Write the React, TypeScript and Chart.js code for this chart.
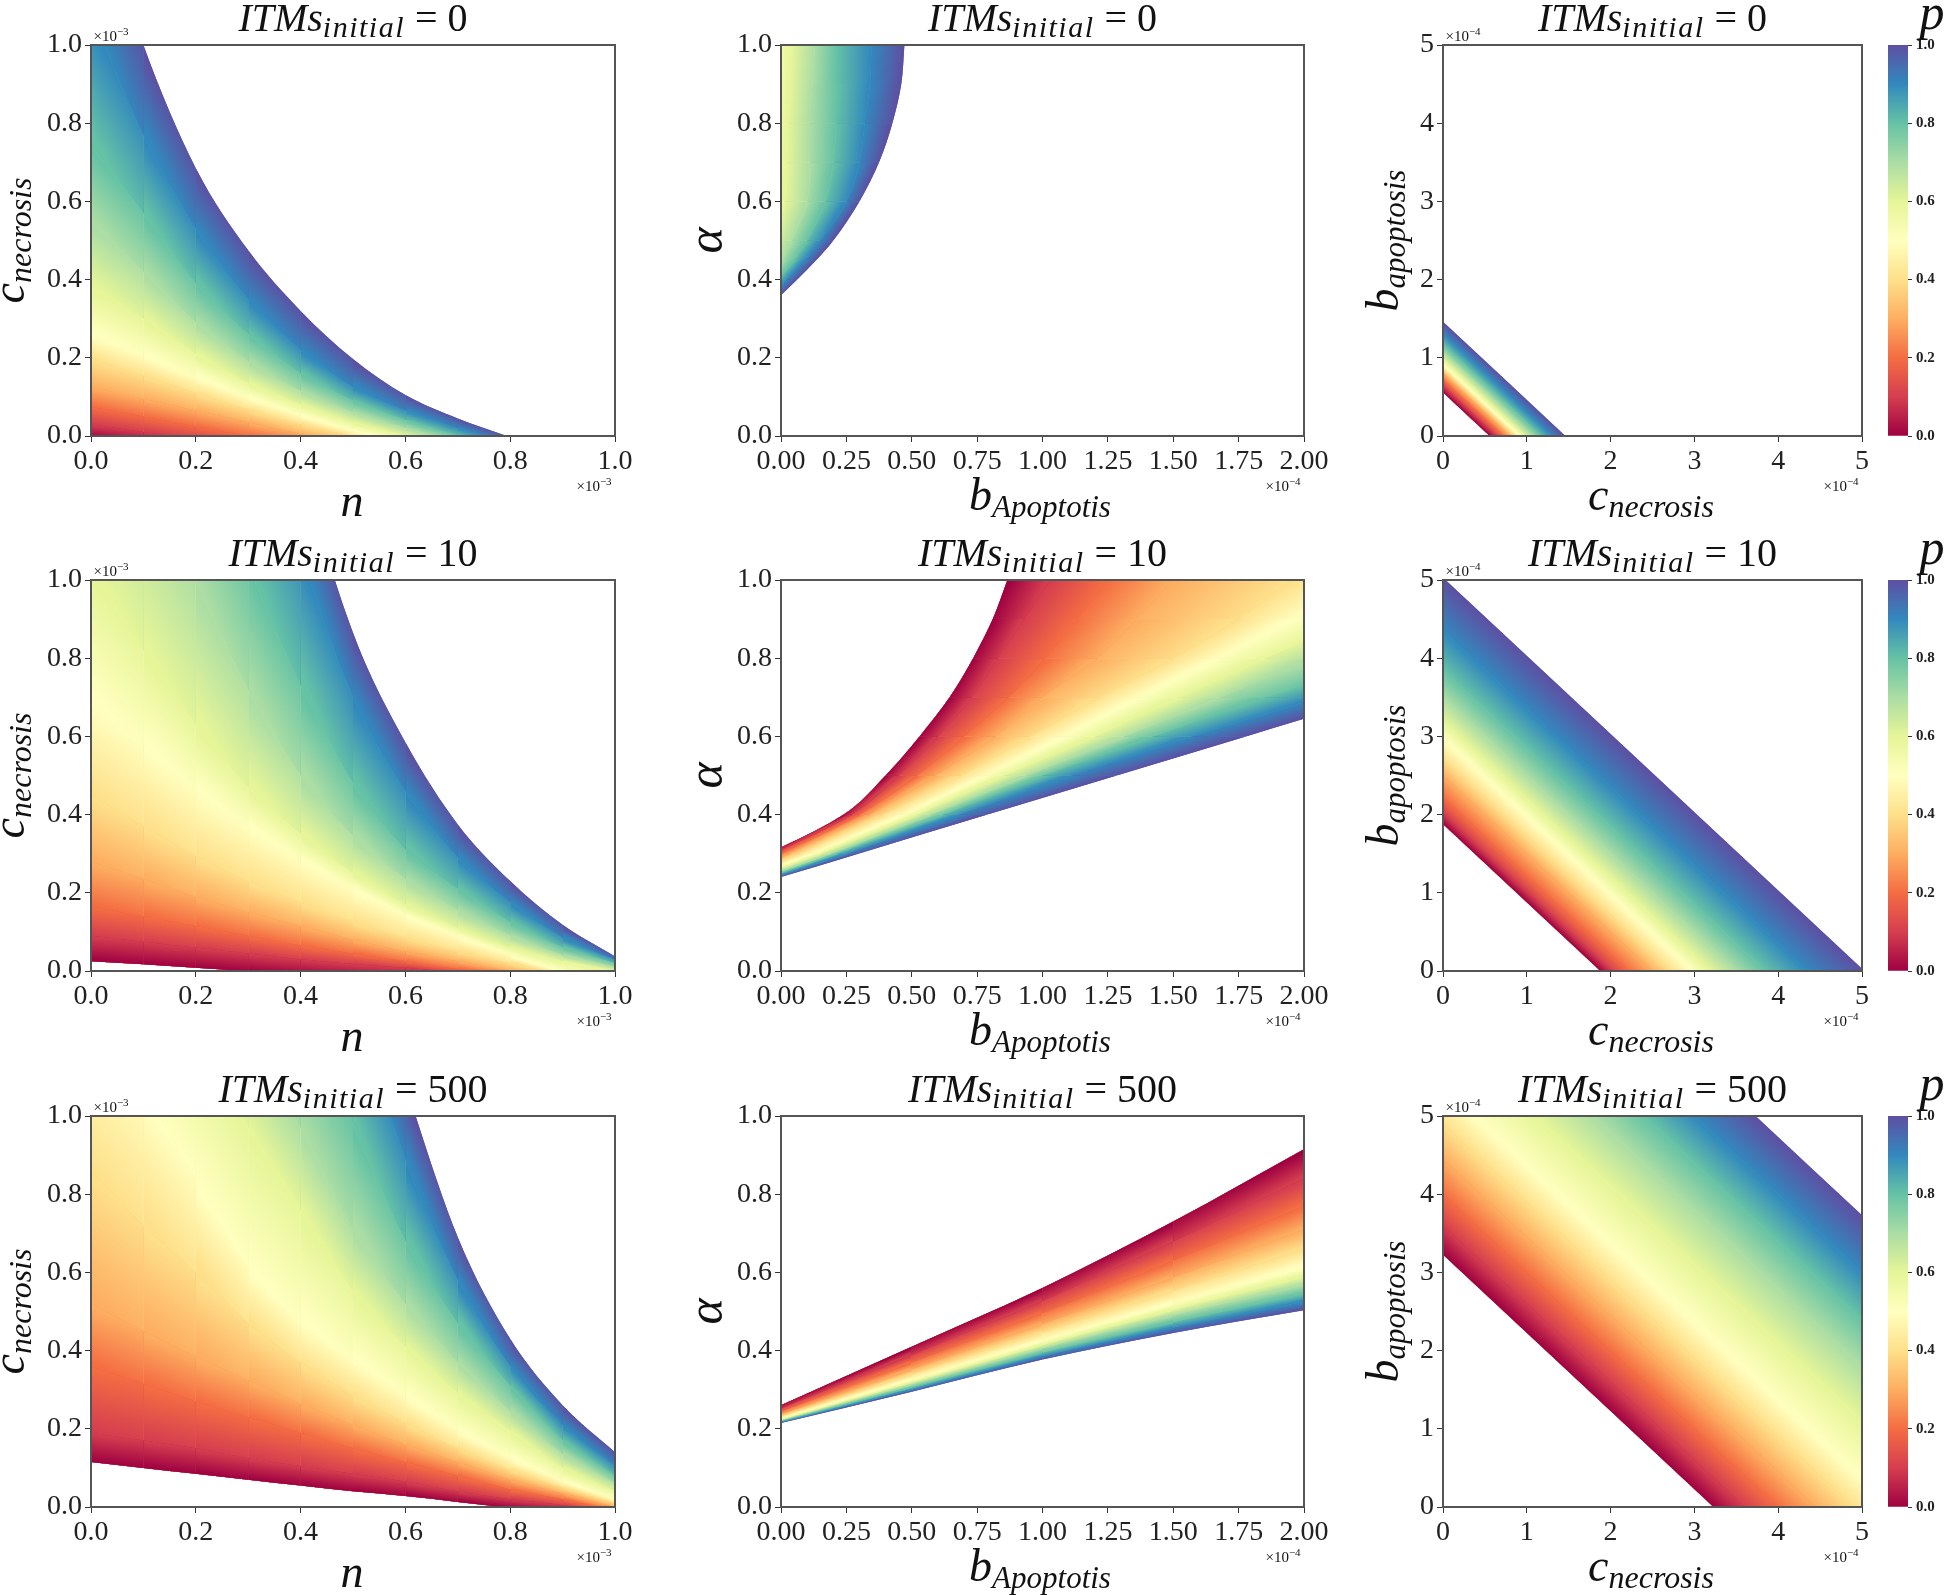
import React, { useEffect, useRef } from "react";
import { Chart, registerables } from "chart.js";

Chart.register(...registerables);

// Spectral colour map anchors, one per contour level p = 0.0, 0.1, ... 1.0
const levelColors = ["#9e0142", "#d53e4f", "#f46d43", "#fdae61", "#fee08b", "#ffffbf", "#e6f598", "#abdda4", "#66c2a5", "#3288bd", "#5e4fa2"];
const itmsValues = ["0", "10", "500"];
const colorbarTicks = [0, 0.2, 0.4, 0.6, 0.8, 1];

// Iso-p contours: each row is one level (p=0 ... p=1), each column one position below.
const nX = [0, 0.1, 0.2, 0.3, 0.4, 0.5, 0.6, 0.7, 0.8];
const nC_itm0 = [
  [-0.005, -0.02, -0.04, -0.06, -0.08, -0.1, -0.12, -0.14, -0.16],
  [0.03, 0.01, -0.01, -0.03, -0.05, -0.07, -0.09, -0.11, -0.13],
  [0.075, 0.05, 0.025, 0, -0.02, -0.045, -0.065, -0.09, -0.11],
  [0.125, 0.095, 0.065, 0.035, 0.005, -0.02, -0.045, -0.07, -0.09],
  [0.195, 0.155, 0.11, 0.068, 0.03, 0, -0.025, -0.055, -0.08],
  [0.26, 0.205, 0.15, 0.098, 0.052, 0.012, -0.015, -0.045, -0.07],
  [0.38, 0.3, 0.21, 0.135, 0.08, 0.035, 0, -0.03, -0.055],
  [0.55, 0.42, 0.29, 0.19, 0.115, 0.06, 0.02, -0.015, -0.045],
  [0.74, 0.57, 0.39, 0.26, 0.16, 0.09, 0.04, 0, -0.035],
  [1.08, 0.77, 0.53, 0.35, 0.22, 0.125, 0.065, 0.02, -0.02],
  [1.42, 1.0, 0.685, 0.475, 0.32, 0.197, 0.105, 0.045, -0.003],
];

const nXFull = [0, 0.1, 0.2, 0.3, 0.4, 0.5, 0.6, 0.7, 0.8, 0.9, 1];
const nC_itm10 = [
  [0.025, 0.017, 0.008, -0.001, -0.01, -0.02, -0.03, -0.04, -0.05, -0.06, -0.09],
  [0.09, 0.075, 0.06, 0.045, 0.03, 0.018, 0.008, -0.005, -0.02, -0.04, -0.08],
  [0.165, 0.14, 0.115, 0.09, 0.065, 0.045, 0.025, 0.005, -0.01, -0.03, -0.07],
  [0.28, 0.235, 0.19, 0.15, 0.115, 0.08, 0.05, 0.025, 0, -0.02, -0.06],
  [0.45, 0.37, 0.295, 0.23, 0.175, 0.125, 0.085, 0.05, 0.02, -0.01, -0.05],
  [0.69, 0.58, 0.46, 0.37, 0.285, 0.21, 0.14, 0.09, 0.04, -0.005, -0.04],
  [1.03, 0.82, 0.63, 0.47, 0.35, 0.25, 0.17, 0.11, 0.06, 0.025, 0],
  [1.6, 1.3, 1, 0.72, 0.5, 0.345, 0.235, 0.155, 0.09, 0.04, 0.01],
  [2.2, 1.8, 1.4, 1.04, 0.73, 0.48, 0.31, 0.21, 0.125, 0.06, 0.02],
  [2.8, 2.4, 1.9, 1.5, 1.07, 0.7, 0.46, 0.29, 0.175, 0.085, 0.028],
  [3.1, 2.7, 2.3, 1.85, 1.3, 0.865, 0.585, 0.375, 0.23, 0.118, 0.037],
];
const nC_itm500 = [
  [0.115, 0.1, 0.085, 0.07, 0.055, 0.04, 0.028, 0.013, -0.002, -0.015, -0.03],
  [0.19, 0.17, 0.15, 0.125, 0.105, 0.085, 0.065, 0.04, 0.02, 0.005, -0.02],
  [0.36, 0.315, 0.27, 0.23, 0.19, 0.15, 0.115, 0.08, 0.045, 0.02, -0.01],
  [0.52, 0.45, 0.385, 0.325, 0.265, 0.21, 0.16, 0.115, 0.07, 0.035, 0],
  [0.86, 0.72, 0.6, 0.47, 0.37, 0.285, 0.215, 0.15, 0.095, 0.05, 0.01],
  [1.22, 1.06, 0.84, 0.61, 0.47, 0.38, 0.285, 0.195, 0.125, 0.065, 0.02],
  [1.6, 1.4, 1.2, 0.97, 0.76, 0.55, 0.41, 0.29, 0.195, 0.1, 0.04],
  [2.1, 1.8, 1.5, 1.2, 0.97, 0.71, 0.52, 0.37, 0.245, 0.135, 0.06],
  [2.7, 2.35, 2, 1.65, 1.3, 0.98, 0.68, 0.47, 0.31, 0.17, 0.08],
  [3.3, 2.9, 2.5, 2.1, 1.7, 1.3, 0.89, 0.58, 0.36, 0.21, 0.105],
  [3.5, 3.1, 2.7, 2.3, 1.9, 1.5, 1.08, 0.69, 0.43, 0.26, 0.14],
];

// These two panels' contours are read as b (x) at each alpha (y), because they run steeply.
const alphaY_itm0 = [0.3, 0.36, 0.4, 0.45, 0.5, 0.6, 0.7, 0.8, 0.9, 1];
const bAtAlpha_itm0 = [
  [-0.8, -0.8, -0.8, -0.8, -0.8, -0.8, -0.8, -0.8, -0.8, -0.8],
  [-0.7, -0.7, -0.7, -0.7, -0.7, -0.7, -0.7, -0.7, -0.7, -0.7],
  [-0.6, -0.6, -0.6, -0.6, -0.6, -0.6, -0.6, -0.6, -0.6, -0.6],
  [-0.5, -0.5, -0.5, -0.5, -0.5, -0.5, -0.5, -0.5, -0.5, -0.5],
  [-0.4, -0.4, -0.4, -0.4, -0.4, -0.4, -0.4, -0.4, -0.4, -0.4],
  [-0.3, -0.2, -0.17, -0.15, -0.12, -0.08, -0.07, -0.06, -0.05, -0.04],
  [-0.25, -0.15, -0.1, -0.06, -0.03, 0.015, 0.02, 0.025, 0.035, 0.04],
  [-0.2, -0.1, -0.04, 0.005, 0.04, 0.1, 0.11, 0.11, 0.12, 0.13],
  [-0.16, -0.07, -0.01, 0.05, 0.1, 0.17, 0.2, 0.21, 0.21, 0.21],
  [-0.12, -0.03, 0.02, 0.09, 0.15, 0.25, 0.3, 0.32, 0.34, 0.346],
  [-0.1, 0, 0.062, 0.135, 0.2, 0.3, 0.375, 0.426, 0.46, 0.472],
];

const alphaY_itm10 = [0.2, 0.3, 0.4, 0.5, 0.6, 0.7, 0.8, 0.9, 1];
const bAtAlpha_itm10 = [
  [-0.4, -0.05, 0.24, 0.4, 0.53, 0.645, 0.735, 0.81, 0.866],
  [-0.37, -0.03, 0.27, 0.45, 0.6, 0.73, 0.83, 0.93, 1.03],
  [-0.34, 0, 0.3, 0.52, 0.7, 0.87, 1.01, 1.13, 1.25],
  [-0.32, 0.03, 0.34, 0.59, 0.82, 1.0, 1.21, 1.36, 1.5],
  [-0.3, 0.07, 0.39, 0.69, 0.95, 1.22, 1.5, 1.75, 1.95],
  [-0.28, 0.12, 0.47, 0.78, 1.08, 1.36, 1.67, 1.95, 2.25],
  [-0.26, 0.15, 0.52, 0.85, 1.2, 1.52, 1.85, 2.2, 2.6],
  [-0.24, 0.19, 0.57, 0.94, 1.31, 1.68, 2.03, 2.5, 2.95],
  [-0.22, 0.21, 0.62, 1.0, 1.42, 1.85, 2.34, 2.8, 3.25],
  [-0.21, 0.25, 0.68, 1.11, 1.57, 2.06, 2.52, 2.98, 3.44],
  [-0.2, 0.296, 0.79, 1.284, 1.778, 2.27, 2.77, 3.26, 3.75],
];

const bX_itm500 = [0, 0.5, 1, 1.5, 2];
const alpha_itm500 = [
  [0.26, 0.41, 0.56, 0.73, 0.915],
  [0.252, 0.389, 0.527, 0.679, 0.84],
  [0.244, 0.37, 0.496, 0.63, 0.77],
  [0.237, 0.352, 0.468, 0.587, 0.71],
  [0.232, 0.339, 0.447, 0.553, 0.66],
  [0.227, 0.326, 0.426, 0.522, 0.615],
  [0.224, 0.319, 0.415, 0.505, 0.59],
  [0.222, 0.313, 0.406, 0.491, 0.568],
  [0.22, 0.306, 0.395, 0.473, 0.546],
  [0.217, 0.3, 0.386, 0.459, 0.525],
  [0.215, 0.295, 0.377, 0.445, 0.503],
];

const cX_itm0 = [0, 2];
const bApo_itm0 = [
  [0.56, -1.44], [0.64, -1.36], [0.72, -1.28], [0.8, -1.2], [0.86, -1.14], [0.91, -1.09],
  [0.98, -1.02], [1.07, -0.93], [1.17, -0.83], [1.3, -0.7], [1.46, -0.54],
];
const cX_itm10 = [0, 5];
const bApo_itm10 = [
  [1.88, -3.12], [2.02, -2.98], [2.22, -2.78], [2.5, -2.5], [2.72, -2.28], [2.97, -2.03],
  [3.2, -1.8], [3.5, -1.5], [3.85, -1.15], [4.35, -0.65], [5.03, 0.03],
];
const cX_itm500 = [0, 5];
const bApo_itm500 = [
  [3.23, -1.77], [3.6, -1.4], [4, -1], [4.45, -0.55], [4.9, -0.1], [5.35, 0.35],
  [6.1, 1.1], [6.8, 1.8], [7.4, 2.4], [8, 3], [8.73, 3.73],
];

type Piece = { t: string; s: number; i?: boolean; dy?: number; ls?: number };
const FONT = '"Liberation Serif", "DejaVu Serif", serif';

function drawMath(ctx: CanvasRenderingContext2D, pieces: Piece[], x: number, y: number, rot = 0) {
  ctx.save();
  ctx.translate(x, y);
  ctx.rotate(rot);
  ctx.textBaseline = "alphabetic";
  ctx.textAlign = "left";
  ctx.fillStyle = "#111";
  const setFont = (p: Piece) => {
    ctx.font = `${p.i ? "italic " : ""}${p.s}px ${FONT}`;
    (ctx as any).letterSpacing = `${p.ls || 0}px`;
  };
  let w = 0;
  for (const p of pieces) {
    setFont(p);
    w += ctx.measureText(p.t).width;
  }
  let cx = -w / 2;
  for (const p of pieces) {
    setFont(p);
    ctx.fillText(p.t, cx, p.dy || 0);
    cx += ctx.measureText(p.t).width;
  }
  ctx.restore();
}

const titleOf = (n: string): Piece[] => [
  { t: "ITMs", s: 40, i: true },
  { t: "initial", s: 30, i: true, dy: 6, ls: 1.5 },
  { t: " = " + n, s: 40 },
];
const expo = (e: string): Piece[] => [
  { t: "×10", s: 15 },
  { t: "−" + e, s: 11, dy: -6 },
];

const colDefs = [
  {
    L: 91, R: 615, xMax: 1, yMax: 1, xStep: 0.2, yStep: 0.2, xDec: 1, yDec: 1,
    exp: "3", topExp: true,
    xLabel: [{ t: "n", s: 46, i: true }] as Piece[], xLabelX: 352, xLabelY: 80,
    yLabel: [{ t: "c", s: 46, i: true }, { t: "necrosis", s: 32, i: true, dy: 7 }] as Piece[], yLabelX: 24,
    rows: [[nX, nC_itm0, "x"], [nXFull, nC_itm10, "x"], [nXFull, nC_itm500, "x"]],
  },
  {
    L: 781, R: 1304, xMax: 2, yMax: 1, xStep: 0.25, yStep: 0.2, xDec: 2, yDec: 1,
    exp: "4", topExp: false,
    xLabel: [{ t: "b", s: 46, i: true }, { t: "Apoptotis", s: 31, i: true, dy: 7 }] as Piece[], xLabelX: 1040, xLabelY: 74,
    yLabel: [{ t: "α", s: 50, i: true }] as Piece[], yLabelX: 722,
    rows: [[alphaY_itm0, bAtAlpha_itm0, "y"], [alphaY_itm10, bAtAlpha_itm10, "y"], [bX_itm500, alpha_itm500, "x"]],
  },
  {
    L: 1443, R: 1862, xMax: 5, yMax: 5, xStep: 1, yStep: 1, xDec: 0, yDec: 0,
    exp: "4", topExp: true,
    xLabel: [{ t: "c", s: 46, i: true }, { t: "necrosis", s: 32, i: true, dy: 7 }] as Piece[], xLabelX: 1651, xLabelY: 74,
    yLabel: [{ t: "b", s: 46, i: true }, { t: "apoptosis", s: 31, i: true, dy: 7 }] as Piece[], yLabelX: 1398,
    rows: [[cX_itm0, bApo_itm0, "x"], [cX_itm10, bApo_itm10, "x"], [cX_itm500, bApo_itm500, "x"]],
  },
];
const rowDefs = [
  { T: 45, B: 436 },
  { T: 580, B: 971 },
  { T: 1116, B: 1507 },
];
const M = { l: 91, r: 32, t: 45, b: 88 };
const BAR = { L: 1888, R: 1908, r: 38 };

type Box = { left: number; top: number; width: number; height: number };

function panelBox(c: number, r: number): Box {
  const col = colDefs[c];
  const row = rowDefs[r];
  return {
    left: col.L - M.l,
    top: row.T - M.t,
    width: col.R - col.L + M.l + M.r,
    height: row.B - row.T + M.t + M.b,
  };
}
function barBox(r: number): Box {
  const row = rowDefs[r];
  return {
    left: BAR.L,
    top: row.T - M.t,
    width: BAR.R - BAR.L + BAR.r,
    height: row.B - row.T + M.t + M.b,
  };
}

function midColor(a: string, b: string) {
  const ch = (h: string, k: number) => parseInt(h.slice(1 + 2 * k, 3 + 2 * k), 16);
  return `rgb(${[0, 1, 2].map((k) => Math.round((ch(a, k) + ch(b, k)) / 2)).join(",")})`;
}

function bandGradient(sc: any, pos: number[], lower: number[], upper: number[], j: number, i: number, axis: string, ctx2d: CanvasRenderingContext2D) {
  const fallback = midColor(levelColors[j - 1], levelColors[j]);
  if (!sc || !sc.x || !sc.y || !Number.isInteger(i) || i < 0 || i + 1 >= pos.length) return fallback;
  const pt = (p: number, v: number) =>
    axis === "x"
      ? [sc.x.getPixelForValue(p), sc.y.getPixelForValue(v)]
      : [sc.x.getPixelForValue(v), sc.y.getPixelForValue(p)];
  const A0 = pt(pos[i], lower[i]);
  const A1 = pt(pos[i + 1], lower[i + 1]);
  const B0 = pt(pos[i], upper[i]);
  const B1 = pt(pos[i + 1], upper[i + 1]);
  const ax = (A0[0] + A1[0]) / 2;
  const ay = (A0[1] + A1[1]) / 2;
  const bx = (B0[0] + B1[0]) / 2;
  const by = (B0[1] + B1[1]) / 2;
  // normal of the mean contour direction
  const tx = (A1[0] - A0[0] + B1[0] - B0[0]) / 2;
  const ty = (A1[1] - A0[1] + B1[1] - B0[1]) / 2;
  const len = Math.hypot(tx, ty) || 1;
  const nx = -ty / len;
  const ny = tx / len;
  const d = (bx - ax) * nx + (by - ay) * ny;
  const ex = ax + nx * d;
  const ey = ay + ny * d;
  if (![ax, ay, ex, ey].every(Number.isFinite)) return fallback;
  const g = ctx2d.createLinearGradient(ax, ay, ex, ey);
  g.addColorStop(0, levelColors[j - 1]);
  g.addColorStop(1, levelColors[j]);
  return g;
}

function makePanel(canvas: HTMLCanvasElement, c: number, r: number) {
  const col = colDefs[c];
  const box = panelBox(c, r);
  const [pos, levels, axis] = col.rows[r] as [number[], number[][], string];
  const toPoints = (ys: number[]) => ys.map((v, i) => (axis === "x" ? { x: pos[i], y: v } : { x: v, y: pos[i] }));
  const lineBase = {
    borderWidth: 0,
    pointRadius: 0,
    cubicInterpolationMode: "monotone",
    capBezierPoints: false,
  };
  const datasets: any[] = [
    { ...lineBase, label: "p=0.0", data: toPoints(levels[0]), fill: false, backgroundColor: levelColors[0] },
  ];
  // Later datasets paint first: a flat under-layer, then the gradient layer over it, from p=1 down to p=0.1.
  for (let j = 1; j < levels.length; j++) {
    const ys = levels[j];
    const flat = midColor(levelColors[j - 1], levelColors[j]);
    datasets.push({
      ...lineBase,
      label: "p=" + (j / 10).toFixed(1),
      data: toPoints(ys),
      fill: 0,
      backgroundColor: flat,
      segment: {
        backgroundColor: (sctx: any) =>
          bandGradient(sctx.chart.scales, pos, levels[j - 1], ys, j, sctx.p0DataIndex, axis, sctx.chart.ctx),
      },
    });
    datasets.push({
      ...lineBase,
      label: "p=" + (j / 10).toFixed(1) + " base",
      data: toPoints(ys),
      fill: 0,
      backgroundColor: flat,
    });
  }
  const annotate = {
    id: "annotate",
    afterDraw(chart: any) {
      const ctx = chart.ctx as CanvasRenderingContext2D;
      const a = chart.chartArea;
      ctx.save();
      ctx.strokeStyle = "#555";
      ctx.lineWidth = 2;
      ctx.strokeRect(a.left, a.top, a.right - a.left, a.bottom - a.top);
      ctx.restore();
      const cx = (a.left + a.right) / 2;
      drawMath(ctx, titleOf(itmsValues[r]), cx, a.top - 14);
      drawMath(ctx, col.xLabel, col.xLabelX - box.left, a.bottom + col.xLabelY);
      drawMath(ctx, col.yLabel, col.yLabelX - box.left, (a.top + a.bottom) / 2, -Math.PI / 2);
      drawMath(ctx, expo(col.exp), a.right - 21, a.bottom + 55);
      if (col.topExp) drawMath(ctx, expo(col.exp), a.left + 20, a.top - 4);
    },
  };
  return new Chart(canvas, {
    type: "line",
    data: { datasets } as any,
    plugins: [annotate],
    options: {
      indexAxis: axis,
      animation: false,
      responsive: false,
      events: [],
      layout: { autoPadding: false, padding: { top: M.t, right: M.r, left: 0, bottom: 0 } },
      plugins: { legend: { display: false }, tooltip: { enabled: false }, title: { display: false } },
      scales: {
        x: {
          type: "linear",
          min: 0,
          max: col.xMax,
          afterFit: (s: any) => {
            s.height = M.b;
          },
          grid: { drawOnChartArea: false, drawTicks: true, tickLength: 6, color: "#333" },
          border: { display: false },
          ticks: {
            stepSize: col.xStep,
            autoSkip: false,
            maxRotation: 0,
            padding: 3,
            color: "#222",
            font: { family: FONT, size: 28 },
            callback: (v: any) => Number(v).toFixed(col.xDec),
          },
        },
        y: {
          type: "linear",
          min: 0,
          max: col.yMax,
          afterFit: (s: any) => {
            s.width = M.l;
          },
          grid: { drawOnChartArea: false, drawTicks: true, tickLength: 6, color: "#333" },
          border: { display: false },
          ticks: {
            stepSize: col.yStep,
            autoSkip: false,
            padding: 3,
            color: "#222",
            font: { family: FONT, size: 28 },
            callback: (v: any) => Number(v).toFixed(col.yDec),
          },
        },
      },
    } as any,
  });
}

function makeBar(canvas: HTMLCanvasElement, r: number) {
  const pLabel = {
    id: "pLabel",
    afterDraw(chart: any) {
      const a = chart.chartArea;
      drawMath(chart.ctx, [{ t: "p", s: 50, i: true }], 1932 - BAR.L, a.top - 16);
    },
  };
  return new Chart(canvas, {
    type: "bar",
    data: {
      labels: ["p"],
      datasets: [
        {
          label: "p",
          data: [[colorbarTicks[0], colorbarTicks[colorbarTicks.length - 1]]],
          barPercentage: 1,
          categoryPercentage: 1,
          borderWidth: 0,
          backgroundColor: (sctx: any) => {
            const sc = sctx.chart.scales.y;
            if (!sc) return levelColors[5];
            const y0 = sc.getPixelForValue(0);
            const y1 = sc.getPixelForValue(1);
            if (!Number.isFinite(y0) || !Number.isFinite(y1)) return levelColors[5];
            const g = sctx.chart.ctx.createLinearGradient(0, y0, 0, y1);
            levelColors.forEach((col, i) => g.addColorStop(i / 10, col));
            return g;
          },
        },
      ],
    } as any,
    plugins: [pLabel],
    options: {
      animation: false,
      responsive: false,
      events: [],
      layout: { autoPadding: false, padding: { top: M.t, right: 0, left: 0, bottom: M.b } },
      plugins: { legend: { display: false }, tooltip: { enabled: false }, title: { display: false } },
      scales: {
        x: { display: false },
        y: {
          type: "linear",
          position: "right",
          min: 0,
          max: 1,
          afterFit: (s: any) => {
            s.width = BAR.r;
          },
          grid: { drawOnChartArea: false, drawTicks: true, tickLength: 4, color: "#333" },
          border: { display: false },
          ticks: {
            stepSize: 0.2,
            autoSkip: false,
            padding: 4,
            color: "#222",
            font: { family: FONT, size: 15, weight: "bold" },
            callback: (v: any) => Number(v).toFixed(1),
          },
        },
      },
    } as any,
  });
}

const boxes: { key: string; box: Box; make: (el: HTMLCanvasElement) => Chart }[] = [];
for (let r = 0; r < 3; r++) {
  for (let c = 0; c < 3; c++) {
    boxes.push({ key: `p${r}${c}`, box: panelBox(c, r), make: (el) => makePanel(el, c, r) });
  }
  boxes.push({ key: `b${r}`, box: barBox(r), make: (el) => makeBar(el, r) });
}

export default function App() {
  const refs = useRef<(HTMLCanvasElement | null)[]>([]);
  useEffect(() => {
    const charts = boxes.map((b, i) => b.make(refs.current[i] as HTMLCanvasElement));
    return () => charts.forEach((ch) => ch.destroy());
  }, []);
  return (
    <div style={{ position: "absolute", left: 0, top: 0, width: 1946, height: 1595, background: "#fff", overflow: "hidden" }}>
      {boxes.map((b, i) => (
        <canvas
          key={b.key}
          ref={(el) => {
            refs.current[i] = el;
          }}
          width={b.box.width}
          height={b.box.height}
          style={{ position: "absolute", left: b.box.left, top: b.box.top, width: b.box.width, height: b.box.height }}
        />
      ))}
    </div>
  );
}
